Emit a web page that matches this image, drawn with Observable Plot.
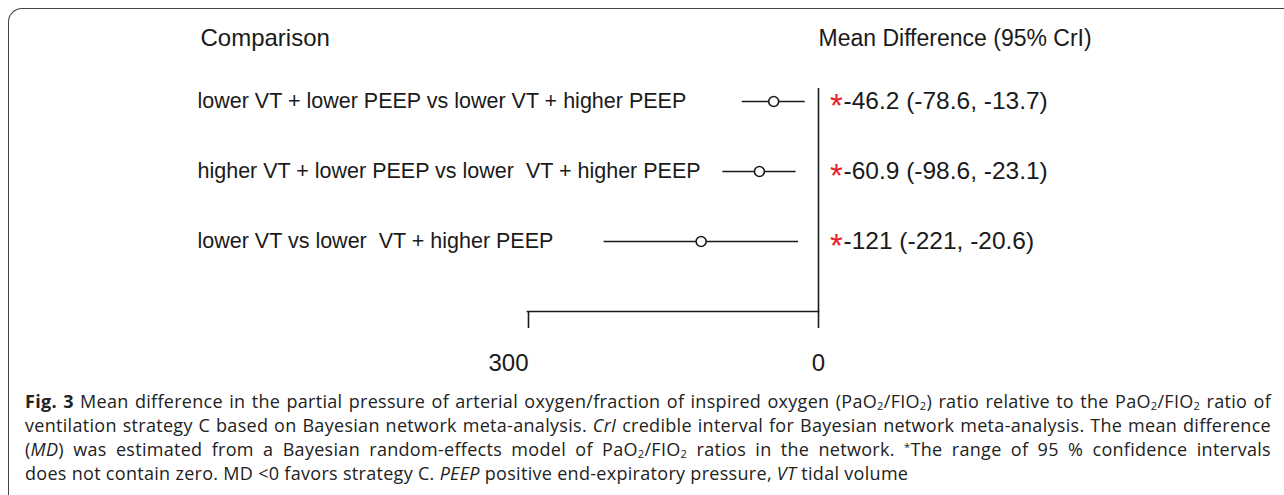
<!DOCTYPE html>
<html>
<head>
<meta charset="utf-8">
<script src="https://cdn.jsdelivr.net/npm/d3@7"></script>
<script src="https://cdn.jsdelivr.net/npm/@observablehq/plot@0.6"></script>
<style>
  html, body { margin: 0; padding: 0; background: #fff; width: 1284px; height: 495px; overflow: hidden; }
  #frame { position: absolute; left: 8px; top: 8px; width: 1320px; height: 540px;
           border-left: 1.5px solid #444; border-top: 1.5px solid #444; border-top-left-radius: 14px; }
  #chart { position: absolute; left: 0; top: 0; }
  #chart svg text { white-space: pre; }
  #caption { position: absolute; left: 25px; top: 389px; width: 1246px;
             font-family: "Open Sans", sans-serif; font-size: 18px; line-height: 24px; color: #222;
             letter-spacing: 0.3px; }
  #caption .j { text-align: justify; text-align-last: justify; white-space: nowrap; }
  #caption .l { text-align: left; white-space: nowrap; }
  #caption sub { font-size: 0.62em; line-height: 1; vertical-align: -0.2em; }
  #caption sup { font-size: 0.62em; line-height: 1; vertical-align: 0.45em; }
</style>
</head>
<body>
<div id="frame"></div>
<div id="chart"></div>
<div id="caption">
  <div class="j"><b>Fig. 3</b> Mean difference in the partial pressure of arterial oxygen/fraction of inspired oxygen (PaO<sub>2</sub>/FIO<sub>2</sub>) ratio relative to the PaO<sub>2</sub>/FIO<sub>2</sub> ratio of</div>
  <div class="j">ventilation strategy C based on Bayesian network meta-analysis. <i>CrI</i> credible interval for Bayesian network meta-analysis. The mean difference</div>
  <div class="j">(<i>MD</i>) was estimated from a Bayesian random-effects model of PaO<sub>2</sub>/FIO<sub>2</sub> ratios in the network. <sup>*</sup>The range of 95 % confidence intervals</div>
  <div class="l">does not contain zero. MD &lt;0 favors strategy C. <i>PEEP</i> positive end-expiratory pressure, <i>VT</i> tidal volume</div>
</div>
<script>
// ---- data ----
const comparisons = [
  "lower VT + lower PEEP vs lower VT + higher PEEP",
  "higher VT + lower PEEP vs lower  VT + higher PEEP",
  "lower VT vs lower  VT + higher PEEP"
];
const meanDiff = [-46.2, -60.9, -121];
const lowerCrI = [-78.6, -98.6, -221];
const upperCrI = [-13.7, -23.1, -20.6];
const significant = [true, true, true];
const xTicks = [-300, 0];
const headerLeft = "Comparison";
const headerRight = "Mean Difference (95% CrI)";

const rows = comparisons.map((c, i) => ({
  label: c, md: meanDiff[i], lo: lowerCrI[i], hi: upperCrI[i], sig: significant[i],
  est: `${meanDiff[i]} (${lowerCrI[i]}, ${upperCrI[i]})`
}));

// ---- layout ----
const W = 1284, H = 385;
const X0 = 527, X1 = 818, TOP = 88, AXIS = 311;
const ink = "#1a1a1a";

const chart = Plot.plot({
  width: W, height: H,
  marginLeft: X0, marginRight: W - X1, marginTop: TOP, marginBottom: H - AXIS,
  x: {domain: [xTicks[0], xTicks[1]]},
  y: {type: "point", domain: comparisons, range: [101, 241], padding: 0, axis: null},
  style: {fontFamily: "'Liberation Sans', Arial, sans-serif", color: ink, background: "transparent", overflow: "visible"},
  marks: [
    Plot.frame({anchor: "bottom", stroke: ink, strokeWidth: 1.6}),
    Plot.ruleX([xTicks[1]], {stroke: ink, strokeWidth: 1.6}),
    Plot.axisX({ticks: [xTicks[0]], tickSize: 17, tickPadding: 25, tickFormat: d => Math.abs(d),
                fontSize: 24, textAnchor: "end", dx: 1, stroke: ink, strokeWidth: 1.6, fill: ink}),
    Plot.axisX({ticks: [xTicks[1]], tickSize: 17, tickPadding: 25, tickFormat: d => Math.abs(d),
                fontSize: 24, stroke: ink, strokeWidth: 1.6, fill: ink}),
    Plot.text([headerLeft], {frameAnchor: "top-left", dx: 200 - X0, dy: 38 - TOP, lineAnchor: "middle",
                             textAnchor: "start", fontSize: 24, fill: ink}),
    Plot.text([headerRight], {frameAnchor: "top-right", dx: 0, dy: 38 - TOP, lineAnchor: "middle",
                              textAnchor: "start", fontSize: 23, fill: ink}),
    Plot.text(rows, {y: "label", text: "label", frameAnchor: "left", dx: 197 - X0, textAnchor: "start",
                     fontSize: 21.5, fill: ink}),
    Plot.ruleY(rows, {y: "label", x1: "lo", x2: "hi", stroke: ink, strokeWidth: 1.6}),
    Plot.dot(rows, {x: "md", y: "label", r: 5, fill: "white", stroke: ink, strokeWidth: 1.6}),
    Plot.text(rows.filter(d => d.sig), {y: "label", text: () => "*", frameAnchor: "right", dx: 18, dy: 5,
                     textAnchor: "middle", fontSize: 33, fill: "#e8202a"}),
    Plot.text(rows, {y: "label", text: "est", frameAnchor: "right", dx: 25, textAnchor: "start",
                     fontSize: 24.5, fill: ink})
  ]
});
document.getElementById("chart").appendChild(chart);
</script>
</body>
</html>
